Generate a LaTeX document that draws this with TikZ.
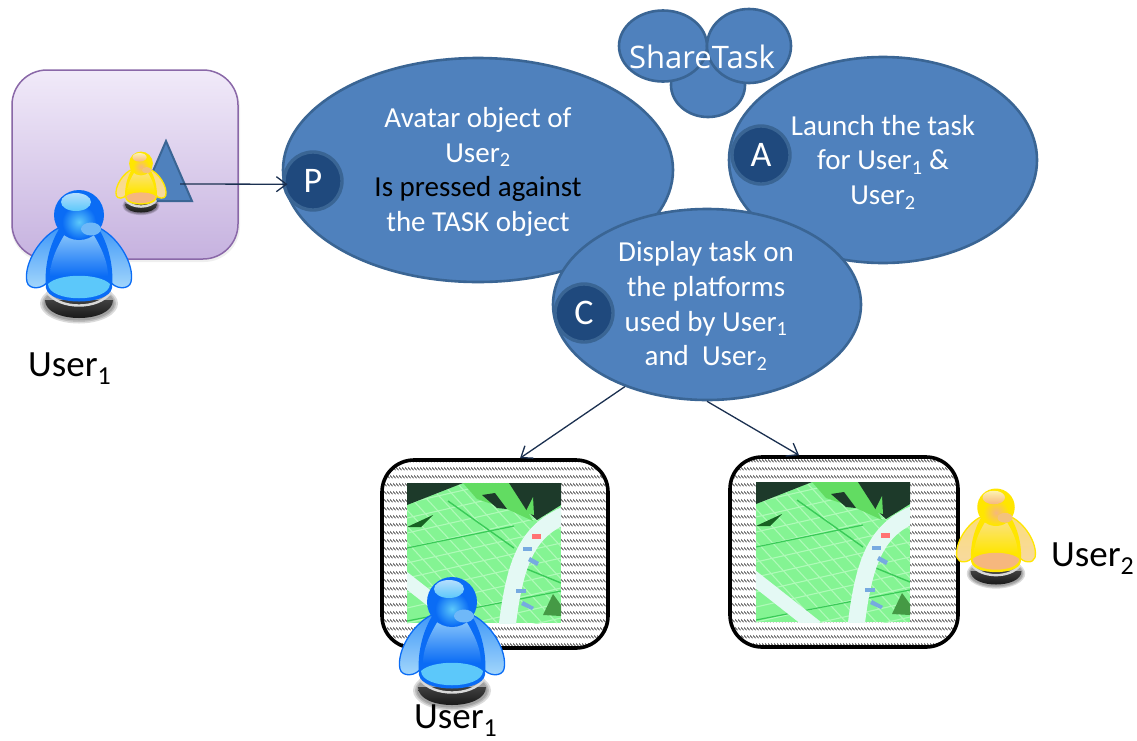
\documentclass[tikz,border=0pt]{standalone}
\usepackage{fontspec}
\setmainfont{Carlito}
\newfontfamily\sharefont{Open Sans}
\usetikzlibrary{shapes.geometric,arrows.meta,calc,patterns}
\pgfdeclarepatternformonly{sharehatch}{\pgfqpoint{0pt}{0pt}}{\pgfqpoint{3pt}{7.7pt}}{\pgfqpoint{3pt}{7.7pt}}{%
  \pgfsetlinewidth{1pt}\pgfsetrectcap
  \pgfpathmoveto{\pgfqpoint{0pt}{4.6pt}}\pgfpathlineto{\pgfqpoint{3pt}{2.2pt}}\pgfusepath{stroke}}
\definecolor{bubble}{HTML}{4F81BD}
\definecolor{bubbleline}{HTML}{3A6594}
\definecolor{dotfill}{HTML}{1F497D}
\definecolor{dotline}{HTML}{3A6594}
\definecolor{linkcol}{HTML}{1B3050}
\definecolor{hatchcol}{HTML}{555555}
\definecolor{plat}{HTML}{8A68A8}
\definecolor{platA}{HTML}{F1EAF9}
\definecolor{platB}{HTML}{C6B2DF}
\tikzset{
  bub/.style={ellipse,draw=bubbleline,fill=bubble,line width=2.6pt,inner sep=0pt},
  ldot/.style={circle,draw=dotline,fill=dotfill,line width=3.4pt,minimum size=58pt,inner sep=0pt,
    text=white,font=\fontsize{36}{40}\selectfont},
  btext/.style={text=white,align=center,font=\fontsize{29}{34.7}\selectfont},
  ulabel/.style={text=black,font=\fontsize{37}{40}\selectfont,inner sep=0pt,anchor=base west},
  link/.style={draw=linkcol,line width=1.3pt,-{Straight Barb[length=10pt,width=15pt,line width=1.3pt]}},
  screen/.style={rectangle,rounded corners=32pt,draw=black,line width=3.6pt,inner sep=0pt,
    preaction={fill=white},pattern=sharehatch,pattern color=hatchcol},
  pics/avatar/.style={code={
    % soft shadow and base
    \fill[black,opacity=.14] (0,47.5) ellipse (39 and 20);
    \fill[black,opacity=.14] (0,47.5) ellipse (37 and 18.5);
    \fill[black,opacity=.14] (0,47.5) ellipse (35.5 and 17);
    \path[top color=black!75,bottom color=black!95] (-34,44) .. controls (-34,68) and (34,68) .. (34,44) -- cycle;
    \draw[white!85!black,line width=2.4pt] (-32,36) .. controls (-20,54) and (20,54) .. (32,36);
    % arms
    \path[draw=avMain,line width=1.3pt,top color=avArmA,bottom color=avArmB]
      (-16,-30) .. controls (-38,-22) and (-56,8) .. (-52,26) .. controls (-50,34) and (-36,34) .. (-30,24)
      .. controls (-26,8) and (-22,-10) .. (-10,-24) -- cycle;
    \path[draw=avMain,line width=1.3pt,top color=avArmA,bottom color=avArmB]
      (16,-30) .. controls (38,-22) and (56,8) .. (52,26) .. controls (50,34) and (36,34) .. (30,24)
      .. controls (26,8) and (22,-10) .. (10,-24) -- cycle;
    % body
    \fill[avMain]
      (-18,-30) .. controls (-30,-12) and (-35,12) .. (-33,32) .. controls (-30,50) and (30,50) .. (33,32)
      .. controls (35,12) and (30,-12) .. (18,-30) .. controls (8,-24) and (-8,-24) .. cycle;
    \path[top color=avBodyA,bottom color=avMain]
      (-14,-22) .. controls (-24,-6) and (-29,8) .. (-29,20) -- (29,20) .. controls (29,8) and (24,-6) .. (14,-22)
      .. controls (6,-16) and (-6,-16) .. cycle;
    \fill[avGlow] (-31,28) .. controls (-20,17) and (20,17) .. (31,28) .. controls (30,47) and (-30,47) .. cycle;
    % head
    \path[fill=avMain] (0,-41) circle (25);
    \path[inner color=avGlow,outer color=avMain] (0,-34) circle (17);
    \path[top color=avHigh,bottom color=avGlow] (-3,-54) ellipse (15 and 9);
    \fill[avSpot] (12,-27) ellipse (10 and 6.5);
  }},
  pics/scene/.style={code={
    \begin{scope}
      \clip (0,0) rectangle (154,140);
      \fill[scenebase] (0,0) rectangle (154,140);
      \foreach \k in {-10,5,...,190}{
        \draw[scenegrid,line width=1.1pt] (\k-60,0) -- (\k+70,140);
        \draw[scenegrid,line width=1.1pt] (0,\k) -- (154,\k-35);
      }
      \draw[scenedeep,line width=1.4pt] (41,18) -- (107,65);
      \draw[scenedeep,line width=1.2pt] (0,65) -- (107,43);
      \draw[scenedeep,line width=1.4pt] (110,82) -- (154,100);
      \draw[scenedeep,line width=1.2pt] (0,138) -- (154,108);
      \fill[scenemid] (56,0) -- (104,0) -- (126,38) -- (100,26) -- (70,16) -- cycle;
      \fill[scenedark] (0,0) -- (56,0) -- (0,22) -- cycle;
      \fill[scenedark] (102,0) -- (154,0) -- (154,22) -- (130,37) -- (120,28) -- cycle;
      \fill[scenedark] (75,12) -- (88,10) -- (100,26) -- (90,25) -- cycle;
      \fill[scenemid] (118,30) -- (126,14) -- (127,32) -- cycle;
      \fill[scenedark!80!green] (0,44) -- (26,32) -- (14,44) -- cycle;
      \draw[sceneroad,line width=17pt] (158,32) .. controls (122,48) and (108,75) .. (100,145);
      \draw[sceneroad,line width=14pt] (-6,93) -- (60,145);
      \fill[red!55!white] (125,51) rectangle (134,56);
      \fill[cyan!60!blue!55!white] (116,64) rectangle (125,68);
      \fill[cyan!60!blue!55!white] (123,74) -- (132,79) -- (130,83) -- (121,78) -- cycle;
      \fill[cyan!60!blue!55!white] (109,106) rectangle (119,110);
      \fill[cyan!60!blue!55!white] (116,118) -- (127,124) -- (125,127) -- (114,122) -- cycle;
      \fill[scenemid!70!black] (136,132) -- (146,111) -- (154,122) -- (154,133) -- cycle;
    \end{scope}
  }}
}
\definecolor{scenebase}{HTML}{84F493}
\definecolor{scenegrid}{HTML}{AFFAB8}
\definecolor{scenedeep}{HTML}{3ACB58}
\definecolor{scenemid}{HTML}{62DC62}
\definecolor{scenedark}{HTML}{1D3A2A}
\definecolor{sceneroad}{HTML}{E4F9F4}
\definecolor{blMain}{HTML}{0A6CF5}
\definecolor{blArmA}{HTML}{3C96F8}
\definecolor{blArmB}{HTML}{A6D8FB}
\definecolor{blBodyA}{HTML}{86C4FB}
\definecolor{blGlow}{HTML}{5CC8FA}
\definecolor{blHigh}{HTML}{B4DEFD}
\definecolor{blSpot}{HTML}{6FB8F8}
\definecolor{ylMain}{HTML}{FFE600}
\definecolor{ylArmA}{HTML}{FBDD7A}
\definecolor{ylArmB}{HTML}{F7D9A0}
\definecolor{ylBodyA}{HTML}{FBE27C}
\definecolor{ylGlow}{HTML}{F6B77E}
\definecolor{ylHigh}{HTML}{FDF2B0}
\definecolor{ylSpot}{HTML}{F3C27E}
\newcommand{\useavatar}[1]{%
  \colorlet{avMain}{#1Main}\colorlet{avArmA}{#1ArmA}\colorlet{avArmB}{#1ArmB}%
  \colorlet{avBodyA}{#1BodyA}\colorlet{avGlow}{#1Glow}\colorlet{avHigh}{#1High}\colorlet{avSpot}{#1Spot}}
\begin{document}
\begin{tikzpicture}[x=1pt,y=-1pt]
\useasboundingbox (0,0) rectangle (1137,740);
\fill[white] (0,0) rectangle (1137,740);

% left platform
\fill[black!30,opacity=.2,rounded corners=36pt] (11,72) rectangle (240,262);
\node[rectangle,rounded corners=35pt,minimum width=226pt,minimum height=189pt,inner sep=0pt,
  draw=plat,line width=1.5pt,top color=platA,bottom color=platB] (platform) at (125,164.5) {};
\node[isosceles triangle,isosceles triangle apex angle=45,isosceles triangle stretches,shape border rotate=90,draw=bubbleline,fill=bubble,
  line width=2pt,minimum height=60pt,minimum width=52pt,inner sep=0pt] (taskobj) at (166,184) {};
\coordinate (taskEdge) at (180,184);
\useavatar{yl}
\pic[scale=.476] at (141,183) {avatar};
\useavatar{bl}
\pic at (79,256) {avatar};
\node[ulabel] (labelA) at (28,376) {User\textsubscript{1}};

% share task cloud
\node[bub,minimum width=74pt,minimum height=64pt] (cloudC) at (708,85) {};
\node[bub,minimum width=88pt,minimum height=71pt] (cloudL) at (663,46) {};
\node[bub,minimum width=84pt,minimum height=74pt] (cloudR) at (749,46) {};
\node[text=white,inner sep=0pt,font=\sharefont\fontsize{31}{34}\selectfont] (share) at (702,57) {ShareTask};

% main bubbles
\node[bub,minimum width=390pt,minimum height=224pt] (pEll) at (478,170) {};
\node[bub,minimum width=308pt,minimum height=206pt] (aEll) at (883,160) {};
\node[bub,minimum width=308pt,minimum height=191pt] (cEll) at (707,304.5) {};
\node[ldot] (pDot) at (313,181) {P};
\node[ldot] (aDot) at (761,155) {A};
\node[ldot] (cDot) at (584,313) {C};
\node[btext] (pText) at (478,172) {Avatar object of\\User\textsubscript{2}\\\textcolor{black}{Is pressed against}\\the TASK object};
\node[btext] (aText) at (883,162) {Launch the task\\for User\textsubscript{1} \&\\User\textsubscript{2}};
\node[btext] (cText) at (706,306) {Display task on\\the platforms\\used by User\textsubscript{1}\\and\ \ User\textsubscript{2}};

% screens
\node[screen,minimum width=226pt,minimum height=188pt] (scrL) at (495,554) {};
\node[screen,minimum width=228pt,minimum height=190pt] (scrR) at (844,552) {};
\pic at (407,483) {scene};
\pic at (756,482) {scene};
\useavatar{bl}
\pic at (452,643) {avatar};
\useavatar{yl}
\pic[scale=.75] at (996,538) {avatar};
\node[ulabel] (labelB) at (414,728) {User\textsubscript{1}};
\node[ulabel] (labelC) at (1051,566) {User\textsubscript{2}};

% connectors
\draw[link,shorten >=-5pt] (taskEdge) -- (pDot.186);
\draw[link] (cEll.225) -- ([xshift=25pt]scrL.north);
\draw[link] (cEll.270) -- ([xshift=-45pt]scrR.north);
\end{tikzpicture}
\end{document}
